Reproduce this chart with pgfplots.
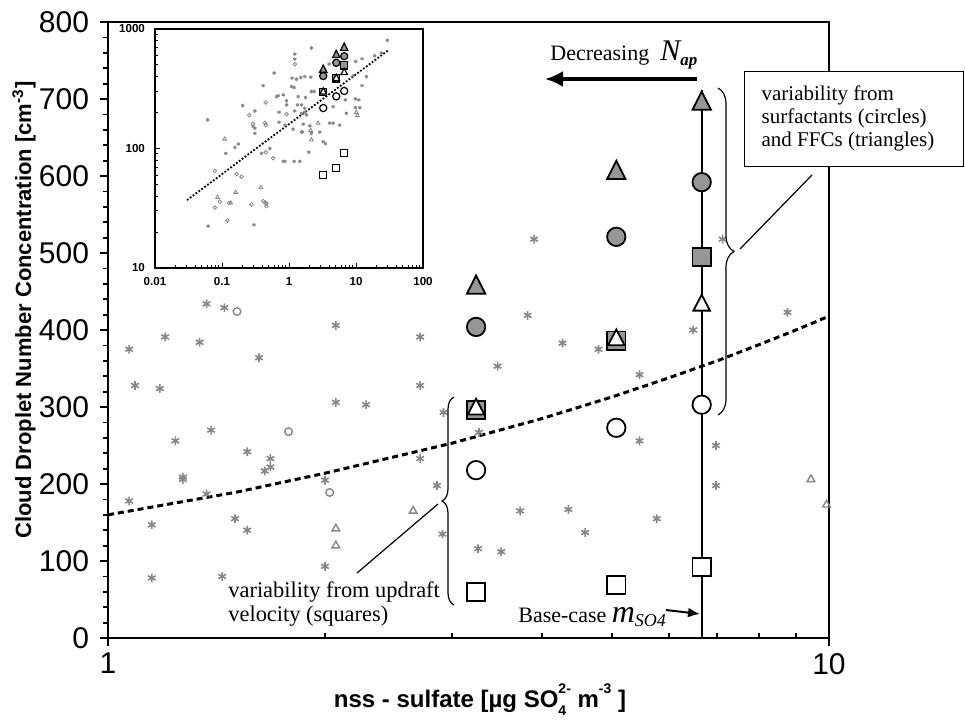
\documentclass[border=0pt]{standalone}
\usepackage{fontspec}
\setmainfont{Liberation Serif}
\setsansfont{Liberation Sans}
\usepackage{pgfplots}
\pgfplotsset{compat=1.18}
\usetikzlibrary{arrows.meta,decorations.pathreplacing}
\definecolor{mk}{RGB}{150,150,150}
\definecolor{sc}{RGB}{135,135,135}
\begin{document}
\begin{tikzpicture}
\useasboundingbox (-54pt,-43pt) rectangle (428.5pt,319pt);
\begin{axis}[
  at={(0pt,0pt)}, anchor=south west,
  scale only axis, width=360.5pt, height=308pt,
  xmode=log, xmin=1, xmax=10, ymin=0, ymax=800,
  axis line style={line width=1.2pt},
  xtick={1,10}, xticklabels={1,10},
  ytick={0,100,...,800},
  minor y tick num=4,
  xtick pos=bottom, ytick pos=left,
  tick align=outside,
  major tick length=4pt, minor tick length=2.5pt,
  every tick/.style={black, line width=0.9pt},
  minor x tick style={yshift=2.5pt},
  tick label style={font=\sffamily\fontsize{15}{15}\selectfont},
  yticklabel style={xshift=-2pt},
  /pgf/number format/assume math mode=true,
  clip=false,
]
% background scatter (gray asterisks)
\addplot[only marks, mark=asterisk, mark size=2.2pt, color=sc, mark options={line width=0.8pt}] coordinates {
(1.37,434) (1.45,429) (2.07,406) (1.20,391) (2.71,391) (1.34,384) (1.07,375) (1.62,364)
(1.09,328) (1.18,324) (2.71,328) (2.07,306) (2.28,303) (2.92,293) (1.39,270) (1.24,256)
(1.56,242) (1.68,233) (1.68,222) (1.65,217) (1.27,209) (1.27,206) (2.71,233) (2.00,205)
(1.37,187) (2.86,198) (1.07,178) (1.15,147) (1.50,155) (1.56,140) (2.91,135) (2.00,93)
(1.15,78) (1.44,80) (3.82,419) (4.27,383) (4.79,375) (6.48,400) (8.76,423) (3.47,353)
(5.46,342) (3.27,267) (5.46,256) (6.97,250) (6.97,198) (3.73,165) (4.35,167) (5.77,155)
(4.59,137) (3.26,116) (3.51,112) (3.90,518) (7.12,518)
};
\addplot[only marks, mark=o, mark size=1.9pt, color=sc, mark options={line width=0.7pt}] coordinates {
(1.51,424) (1.78,268) (2.03,189)
};
\addplot[only marks, mark=triangle, mark size=2.2pt, color=sc, mark options={line width=0.7pt}] coordinates {
(2.65,165) (2.07,142) (2.07,120) (9.44,206) (9.92,173)
};
% power-law fit
\addplot[black, line width=1.5pt, dash pattern=on 3pt off 2pt] coordinates {
(1,160) (1.5,189) (2,214) (3,253) (4,285) (5,313) (6,338) (7,360) (8,381) (9,400) (10,418)
};
% scenario markers
\addplot[only marks, mark=square*, mark size=4.6pt, mark options={draw=black, fill=mk, line width=0.9pt}] coordinates {
(3.24,296) (5.07,386) (6.66,495)
};
\addplot[only marks, mark=triangle*, mark size=5.3pt, mark options={draw=black, fill=mk, line width=0.9pt, yscale=1.15}] coordinates {
(3.24,455) (5.07,604) (6.66,694)
};
\addplot[only marks, mark=*, mark size=4.6pt, mark options={draw=black, fill=mk, line width=0.9pt}] coordinates {
(3.24,404) (5.07,521) (6.66,592)
};
\addplot[only marks, mark=triangle*, mark size=4.8pt, mark options={draw=black, fill=white, line width=0.9pt, yscale=1.1}] coordinates {
(3.24,297) (5.07,387) (6.66,432)
};
\addplot[only marks, mark=*, mark size=4.6pt, mark options={draw=black, fill=white, line width=0.9pt}] coordinates {
(3.24,218) (5.07,273) (6.66,303)
};
\addplot[only marks, mark=square*, mark size=4.6pt, mark options={draw=black, fill=white, line width=0.9pt}] coordinates {
(3.24,60) (5.07,69) (6.66,92)
};
% base case line
\addplot[black, line width=0.9pt] coordinates {(6.66,0) (6.66,712)};
\end{axis}

% inset
\begin{axis}[
  at={(23.5pt,185pt)}, anchor=south west,
  scale only axis, width=134pt, height=119.5pt,
  xmode=log, ymode=log, xmin=0.01, xmax=100, ymin=10, ymax=1000,
  axis background/.style={fill=white},
  axis line style={line width=0.8pt},
  xtick={0.01,0.1,1,10,100}, xticklabels={0.01,0.1,1,10,100},
  ytick={10,100,1000}, yticklabels={10,100,1000},
  xtick pos=bottom, ytick pos=left, tick align=inside,
  major tick length=2.5pt, minor tick length=1.6pt,
  every tick/.style={black, line width=0.5pt},
  tick label style={font=\sffamily\bfseries\fontsize{5.8}{6}\selectfont},
  yticklabel style={xshift=-1.5pt},
  xticklabel style={yshift=-1pt},
]
\addplot[only marks, mark=asterisk, mark size=0.9pt, color=sc, mark options={line width=0.45pt}] coordinates {
(29.4,803) (23.9,629) (19.0,597) (12.3,564) (9.9,535) (2.16,693) (1.22,617) (1.22,560)
(1.72,400) (1.50,393) (1.11,388) (1.29,380) (2.12,395) (3.97,508) (14.3,400) (9.05,405)
(12.3,336) (1.09,330) (1.19,324) (2.16,300) (2.37,300) (1.76,267) (1.37,272) (0.92,251)
(0.92,232) (1.34,232) (1.54,232) (1.72,217) (1.72,201) (1.22,206) (0.87,157) (1.54,197)
(1.82,191) (4.55,224) (6.95,255) (9.8,260) (11.0,255) (9.8,220) (11.4,220) (7.19,197)
(4.06,163) (4.55,163) (5.72,157) (1.63,160) (2.05,155) (1.54,137) (2.16,134) (2.88,137)
(3.23,114) (3.50,110) (1.98,93) (1.19,78) (1.45,78) (0.87,78) (0.60,428) (0.41,336)
(0.203,229) (0.31,206) (0.65,272) (0.69,277) (0.82,281) (0.71,201) (0.061,174) (0.31,148)
(0.31,134) (0.71,166) (0.175,109) (0.156,102) (0.518,100) (0.114,91) (0.389,91) (0.82,78)
(0.062,22.4) (0.30,23) (1.15,145) (1.59,138) (0.29,153)
};
\addplot[only marks, mark=o, mark size=0.9pt, color=sc, mark options={line width=0.4pt}] coordinates {
(1.22,508) (0.255,190) (0.45,243) (0.92,194) (0.29,161) (0.44,164) (0.45,157) (0.45,93)
(0.58,83) (0.078,65) (0.165,61) (0.196,58) (0.093,36) (0.078,32) (0.127,35) (0.276,34)
(0.41,36.3) (0.44,35.3) (0.46,34.7) (0.46,32.9) (0.121,25)
};
\addplot[only marks, mark=triangle, mark size=1.1pt, color=sc, mark options={line width=0.4pt}] coordinates {
(0.11,120) (0.38,47) (0.16,43) (0.086,39) (0.135,35) (10.1,201) (10.5,189) (2.72,163) (2.16,118) (2.1,142)
};
\addplot[black, line width=0.9pt, dash pattern=on 0.9pt off 0.9pt] coordinates {
(0.03,37) (0.1,61) (0.3,97) (1,160) (3,253) (10,418) (30,661)
};
\addplot[only marks, mark=square*, mark size=1.8pt, mark options={draw=black, fill=mk, line width=0.6pt}] coordinates {
(3.24,296) (5.07,386) (6.66,495)
};
\addplot[only marks, mark=triangle*, mark size=2.1pt, mark options={draw=black, fill=mk, line width=0.6pt, yscale=1.15}] coordinates {
(3.24,455) (5.07,604) (6.66,694)
};
\addplot[only marks, mark=*, mark size=1.8pt, mark options={draw=black, fill=mk, line width=0.6pt}] coordinates {
(3.24,404) (5.07,521) (6.66,592)
};
\addplot[only marks, mark=triangle*, mark size=1.9pt, mark options={draw=black, fill=white, line width=0.6pt, yscale=1.1}] coordinates {
(3.24,297) (5.07,387) (6.66,432)
};
\addplot[only marks, mark=*, mark size=1.8pt, mark options={draw=black, fill=white, line width=0.6pt}] coordinates {
(3.24,218) (5.07,273) (6.66,303)
};
\addplot[only marks, mark=square*, mark size=1.8pt, mark options={draw=black, fill=white, line width=0.6pt}] coordinates {
(3.24,60) (5.07,69) (6.66,92)
};
\end{axis}

% axis titles
\node[rotate=90, font=\sffamily\bfseries\fontsize{11}{11}\selectfont] at (-42pt,164pt)
  {Cloud Droplet Number Concentration [cm\textsuperscript{-3}]};
\node[font=\sffamily\bfseries\fontsize{12}{12}\selectfont] at (186pt,-31pt)
  {nss - sulfate [µg SO\rlap{\raisebox{-0.7ex}{\fontsize{7}{7}\selectfont 4}}\raisebox{1.05ex}{\fontsize{7}{7}\selectfont 2-} m\raisebox{1.05ex}{\fontsize{7}{7}\selectfont -3} ]};

% braces and callouts
\draw[decorate, decoration={brace, amplitude=8pt}, line width=0.6pt] (305pt,275pt) -- (305pt,111.5pt);
\draw[line width=0.6pt] (316pt,194.5pt) -- (352pt,231.5pt);
\draw[decorate, decoration={brace, amplitude=6pt}, line width=0.6pt] (173pt,16.5pt) -- (173pt,120.5pt);
\draw[line width=0.6pt] (165pt,67pt) -- (124.5pt,32.5pt);

\draw[line width=0.5pt, fill=white] (318pt,283pt) rectangle (427.5pt,235.5pt);
\node[align=left, font=\fontsize{10.5}{11.5}\selectfont] at (370pt,260pt)
  {variability from\\surfactants (circles)\\and FFCs (triangles)};

\node[anchor=base west, inner sep=0pt, font=\fontsize{11}{11}\selectfont] at (221pt,288.5pt)
  {Decreasing\ \ {\fontsize{15}{15}\selectfont\itshape N}\raisebox{-0.4ex}{\fontsize{8.5}{8.5}\selectfont\itshape\bfseries ap}};
\draw[line width=1.6pt, -{Latex[length=9pt,width=8pt]}] (294.5pt,279.5pt) -- (218.5pt,279.5pt);

\node[anchor=base west, inner sep=0pt, font=\fontsize{11}{11}\selectfont] at (205pt,8pt)
  {Base-case\ {\fontsize{16}{16}\selectfont\itshape m}\raisebox{-0.45ex}{\fontsize{9}{9}\selectfont\itshape SO4}};
\draw[line width=1pt, -{Latex[length=6pt,width=5pt]}] (279pt,14pt) -- (296pt,12pt);

\node[anchor=base west, inner sep=0pt, font=\fontsize{11.2}{11.2}\selectfont] at (60pt,20pt) {variability from updraft};
\node[anchor=base west, inner sep=0pt, font=\fontsize{11.2}{11.2}\selectfont] at (60pt,8.2pt) {velocity (squares)};
\end{tikzpicture}
\end{document}
